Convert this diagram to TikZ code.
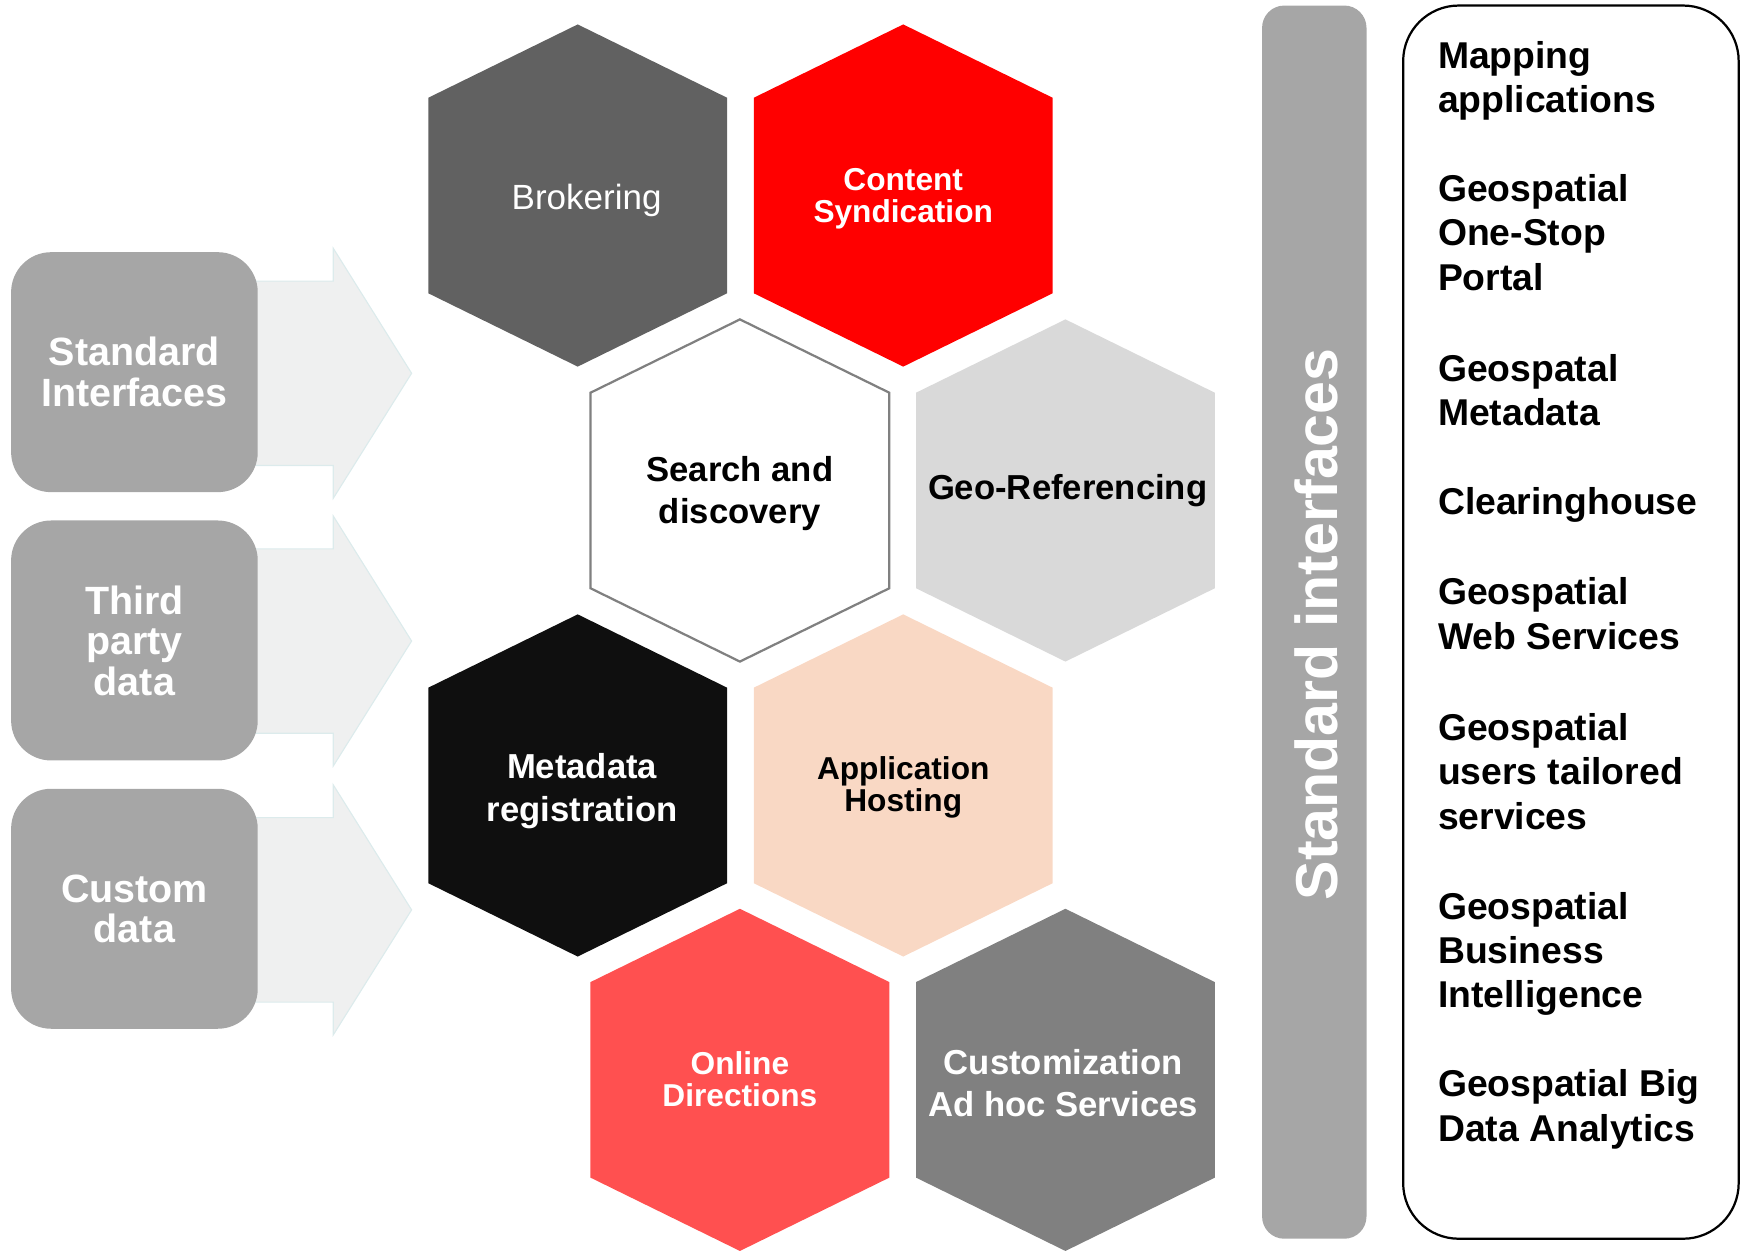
\documentclass[tikz,border=0pt]{standalone}
\usepackage{fontspec}
\setmainfont{Liberation Sans}
\definecolor{boxgray}{HTML}{A6A6A6}
\definecolor{arrowfill}{HTML}{EFF0F0}
\definecolor{arrowline}{HTML}{DCEBEC}
\definecolor{brokgray}{HTML}{616161}
\definecolor{synred}{HTML}{FF0000}
\definecolor{searchline}{HTML}{808080}
\definecolor{geogray}{HTML}{D9D9D9}
\definecolor{metablack}{HTML}{0F0F0F}
\definecolor{hostpeach}{HTML}{F9D8C4}
\definecolor{onlinered}{HTML}{FF5050}
\definecolor{customgray}{HTML}{808080}
\tikzset{
  hexbig/.style={align=center, inner sep=0pt, font=\fontsize{15.6}{19}\selectfont\bfseries},
  hextight/.style={align=center, inner sep=0pt, font=\fontsize{14.25}{14.5}\selectfont\bfseries},
  hexplain/.style={align=center, inner sep=0pt, font=\fontsize{15.75}{19}\selectfont},
  sidebox/.style={fill=boxgray, rounded corners=18pt, minimum width=111pt, minimum height=108pt,
    text=white, align=center, inner sep=0pt, font=\fontsize{17.75}{18.25}\selectfont\bfseries},
  flowarrow/.style={fill=arrowfill, draw=arrowline, line width=0.5pt},
  listitem/.style={anchor=north west, inner sep=0pt, align=left, font=\fontsize{16.8}{20}\selectfont\bfseries},
}
\newcommand\hexcell[3]{\path[#3] (#1,#2) ++(0,-154) -- ++(134.5,66) -- ++(0,176) -- ++(-134.5,66) -- ++(-134.5,-66) -- ++(0,-176) -- cycle;}
\newcommand\flowarr[1]{\path[flowarrow] (200,#1-83) -- (300,#1-83) -- (300,#1-112.5) -- (370.5,#1) -- (300,#1+112.5) -- (300,#1+83) -- (200,#1+83) -- cycle;}
\begin{document}
\begin{tikzpicture}[x=0.5pt,y=-0.5pt]
\useasboundingbox (0,0) rectangle (1568,1127);
% block arrows
\flowarr{336}
\flowarr{577}
\flowarr{819}
% left boxes
\node[sidebox] (stdif) at (121,335) {Standard\\Interfaces};
\node[sidebox] (third) at (121,576.5) {Third\\party\\data};
\node[sidebox] (custom) at (121,818) {Custom\\data};
% hexagons
\hexcell{520}{176}{fill=brokgray}
\node[hexplain, text=white] (brok) at (528,180) {Brokering};
\hexcell{813}{176}{fill=synred}
\node[hextight, text=white] (synd) at (813,179) {Content\\Syndication};
\hexcell{666}{441.5}{fill=white, draw=searchline, line width=1pt}
\node[hexbig, text=black] (search) at (666,444.5) {Search and\\discovery};
\hexcell{959}{441.5}{fill=geogray}
\node[hexbig, text=black] (georef) at (961,442) {Geo-Referencing};
\hexcell{520}{707}{fill=metablack}
\node[hexbig, text=white] (meta) at (524,712) {Metadata\\registration};
\hexcell{813}{707}{fill=hostpeach}
\node[hextight, text=black] (host) at (813,709) {Application\\Hosting};
\hexcell{666}{972}{fill=onlinered}
\node[hextight, text=white] (online) at (666,971.5) {Online\\Directions};
\hexcell{959}{972}{fill=customgray}
\node[hexbig, text=white] (customiz) at (957,975) {Customization\\Ad hoc Services};
% vertical bar
\node[fill=boxgray, rounded corners=10pt, minimum width=47pt, minimum height=555pt, inner sep=0pt] (bar) at (1183,560) {};
\node[rotate=90, anchor=base, text=white, inner sep=0pt, font=\fontsize{26.6}{30}\selectfont\bfseries] (barlabel) at (1204,562) {Standard interfaces};
% right list box
\node[draw=black, line width=1pt, rounded corners=25pt, minimum width=151pt, minimum height=555pt, inner sep=0pt] (listbox) at (1414,560) {};
\node[listitem] (l1) at (1294,36.5) {Mapping\\applications};
\node[listitem] (l2) at (1294,156.5) {Geospatial\\One-Stop\\Portal};
\node[listitem] (l3) at (1294,318.5) {Geospatal\\Metadata};
\node[listitem] (l4) at (1294,438.5) {Clearinghouse};
\node[listitem] (l5) at (1294,519.5) {Geospatial\\Web Services};
\node[listitem] (l6) at (1294,641.5) {Geospatial\\users tailored\\services};
\node[listitem] (l7) at (1294,802.5) {Geospatial\\Business\\Intelligence};
\node[listitem] (l8) at (1294,962.5) {Geospatial Big\\Data Analytics};
\end{tikzpicture}
\end{document}
